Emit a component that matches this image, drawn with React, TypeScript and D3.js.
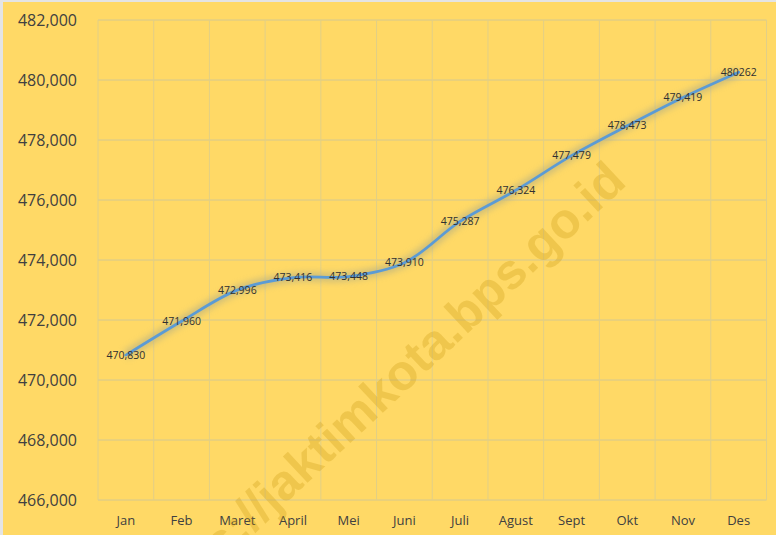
import React, { useEffect } from "react";
import * as d3 from "d3";

const months = ["Jan", "Feb", "Maret", "April", "Mei", "Juni", "Juli", "Agust", "Sept", "Okt", "Nov", "Des"];
const population = [470830, 471960, 472996, 473416, 473448, 473910, 475287, 476324, 477479, 478473, 479419, 480262];
const pointLabels = ["470,830", "471,960", "472,996", "473,416", "473,448", "473,910", "475,287", "476,324", "477,479", "478,473", "479,419", "480262"];
const yTicks = [466000, 468000, 470000, 472000, 474000, 476000, 478000, 480000, 482000];

const W = 776;
const H = 535;
const font = "Open Sans, Liberation Sans, sans-serif";

export default function App() {
  useEffect(() => {
    document.body.style.margin = "0";
    document.body.style.overflow = "hidden";
  }, []);

  const margin = { top: 20, right: 9.5, bottom: 35, left: 98 };
  const x = d3.scaleBand().domain(months).range([margin.left, W - margin.right]);
  const y = d3.scaleLinear().domain([466000, 482000]).range([H - margin.bottom, margin.top]);

  const pts: [number, number][] = population.map((v, i) => [x(months[i])! + x.bandwidth() / 2, y(v)]);
  const path = d3.line().curve(d3.curveCatmullRom.alpha(0.5))(pts) || "";

  const bounds = d3.range(months.length + 1).map((i) => margin.left + i * x.bandwidth());

  return (
    <svg width={W} height={H} style={{ position: "absolute", left: 0, top: 0, display: "block" }}>
      <defs>
        <filter id="glow" x="-20%" y="-20%" width="140%" height="140%">
          <feGaussianBlur stdDeviation="3" />
        </filter>
      </defs>
      <rect width={W} height={H} fill="#FFD966" />
      <rect width={3} height={H} fill="#e4e4e4" />
      <rect width={W} height={2} fill="#e4e4e4" />

      {/* gridlines */}
      {yTicks.map((t) => (
        <line key={t} x1={margin.left} x2={W - margin.right} y1={y(t)} y2={y(t)} stroke="#d4c890" strokeWidth={1} />
      ))}
      {bounds.map((bx, i) => (
        <line key={i} x1={bx} x2={bx} y1={margin.top} y2={H - margin.bottom} stroke="#e2cf86" strokeWidth={1} />
      ))}

      {/* y axis labels */}
      {yTicks.map((t) => (
        <text key={t} x={77} y={y(t)} dy="0.35em" textAnchor="end" fontFamily={font} fontSize={16} fill="#404040">
          {d3.format(",")(t)}
        </text>
      ))}
      {/* x axis labels */}
      {months.map((m) => (
        <text key={m} x={x(m)! + x.bandwidth() / 2} y={525} textAnchor="middle" fontFamily={font} fontSize={13} fill="#404040">
          {m}
        </text>
      ))}

      {/* watermark */}
      <text
        transform="translate(628,184) rotate(-43)"
        textAnchor="end"
        fontFamily="Liberation Sans, Arial, sans-serif"
        fontWeight="bold"
        fontSize={50}
        fill="#c8960c"
        opacity={0.28}
      >
        https://jaktimkota.bps.go.id
      </text>

      {/* line with glow */}
      <path d={path} fill="none" stroke="#a8a888" strokeWidth={9} opacity={0.55} filter="url(#glow)" />
      <path d={path} fill="none" stroke="#5B9BD5" strokeWidth={2.75} strokeLinecap="round" />

      {pts.map(([px, py], i) => (
        <text key={i} x={px} y={py} dy="0.35em" textAnchor="middle" fontFamily={font} fontSize={10.5} fill="#303030">
          {pointLabels[i]}
        </text>
      ))}
    </svg>
  );
}
